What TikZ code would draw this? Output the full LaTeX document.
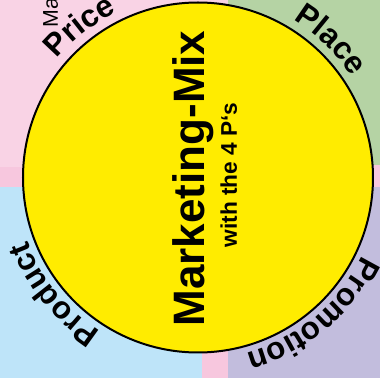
\documentclass[tikz,border=0pt]{standalone}
\usepackage{fontspec}
\setmainfont{Liberation Sans}
\usepackage{tikz}
\usetikzlibrary{decorations.text}
\definecolor{mypink}{RGB}{249,211,229}
\definecolor{mystrip}{RGB}{247,199,222}
\definecolor{mygreen}{RGB}{181,211,164}
\definecolor{myblue}{RGB}{190,228,249}
\definecolor{mylilac}{RGB}{194,189,221}
\definecolor{myyellow}{RGB}{255,236,0}
\newcommand{\pfont}{\bfseries\fontsize{23.5}{25}\selectfont}
\tikzset{
  mixcircle/.style={circle, draw=black, fill=myyellow, line width=1.5pt,
    minimum size=262.5pt, inner sep=0pt},
  bigtitle/.style={font=\bfseries\fontsize{33}{36}\selectfont,
    rotate=90, anchor=base, inner sep=0pt},
  subtitle/.style={font=\bfseries\fontsize{17}{20}\selectfont,
    rotate=90, anchor=base, inner sep=0pt},
  cutword/.style={font=\fontsize{16}{18}\selectfont,
    rotate=90, anchor=base west, inner sep=0pt},
  pword/.style={decorate, decoration={text along path,
    text align=center, text={|\pfont|#1}}}
}

\begin{document}
\begin{tikzpicture}[x=0.75pt, y=0.75pt]
  \useasboundingbox (-198,-200.5) rectangle (182,177.5);
  \clip (-198,-200.5) rectangle (182,177.5);

  % Background quarters
  \fill[mystrip] (-198,-200.5) rectangle (182,177.5);
  \fill[mypink] (-198,10.5) rectangle (30,177.5);
  \fill[mygreen] (30,12.5) rectangle (182,177.5);
  \fill[myblue] (-198,-200.5) rectangle (4,-9.5);
  \fill[mylilac] (30,-200.5) rectangle (182,-9.5);

  % Circle and titles
  \node[mixcircle] (mix) at (0,0) {};
  \node[bigtitle] (title) at (7,-1) {Marketing-Mix};
  \node[subtitle] (subtitle) at (39,2.5) {with the 4 P‘s};
  \node[cutword] (cut) at (-140,150) {Ma};

  % The four P's round the circle
  \path[pword=Price] (168:184) arc[start angle=168, end angle=88, radius=184];
  \path[pword=Place] (86:184) arc[start angle=86, end angle=6, radius=184];
  \path[pword=Product] (259:182) arc[start angle=259, end angle=179, radius=182];
  \path[pword=Promotion] (-10:182) arc[start angle=-10, end angle=-90, radius=182];
\end{tikzpicture}
\end{document}
